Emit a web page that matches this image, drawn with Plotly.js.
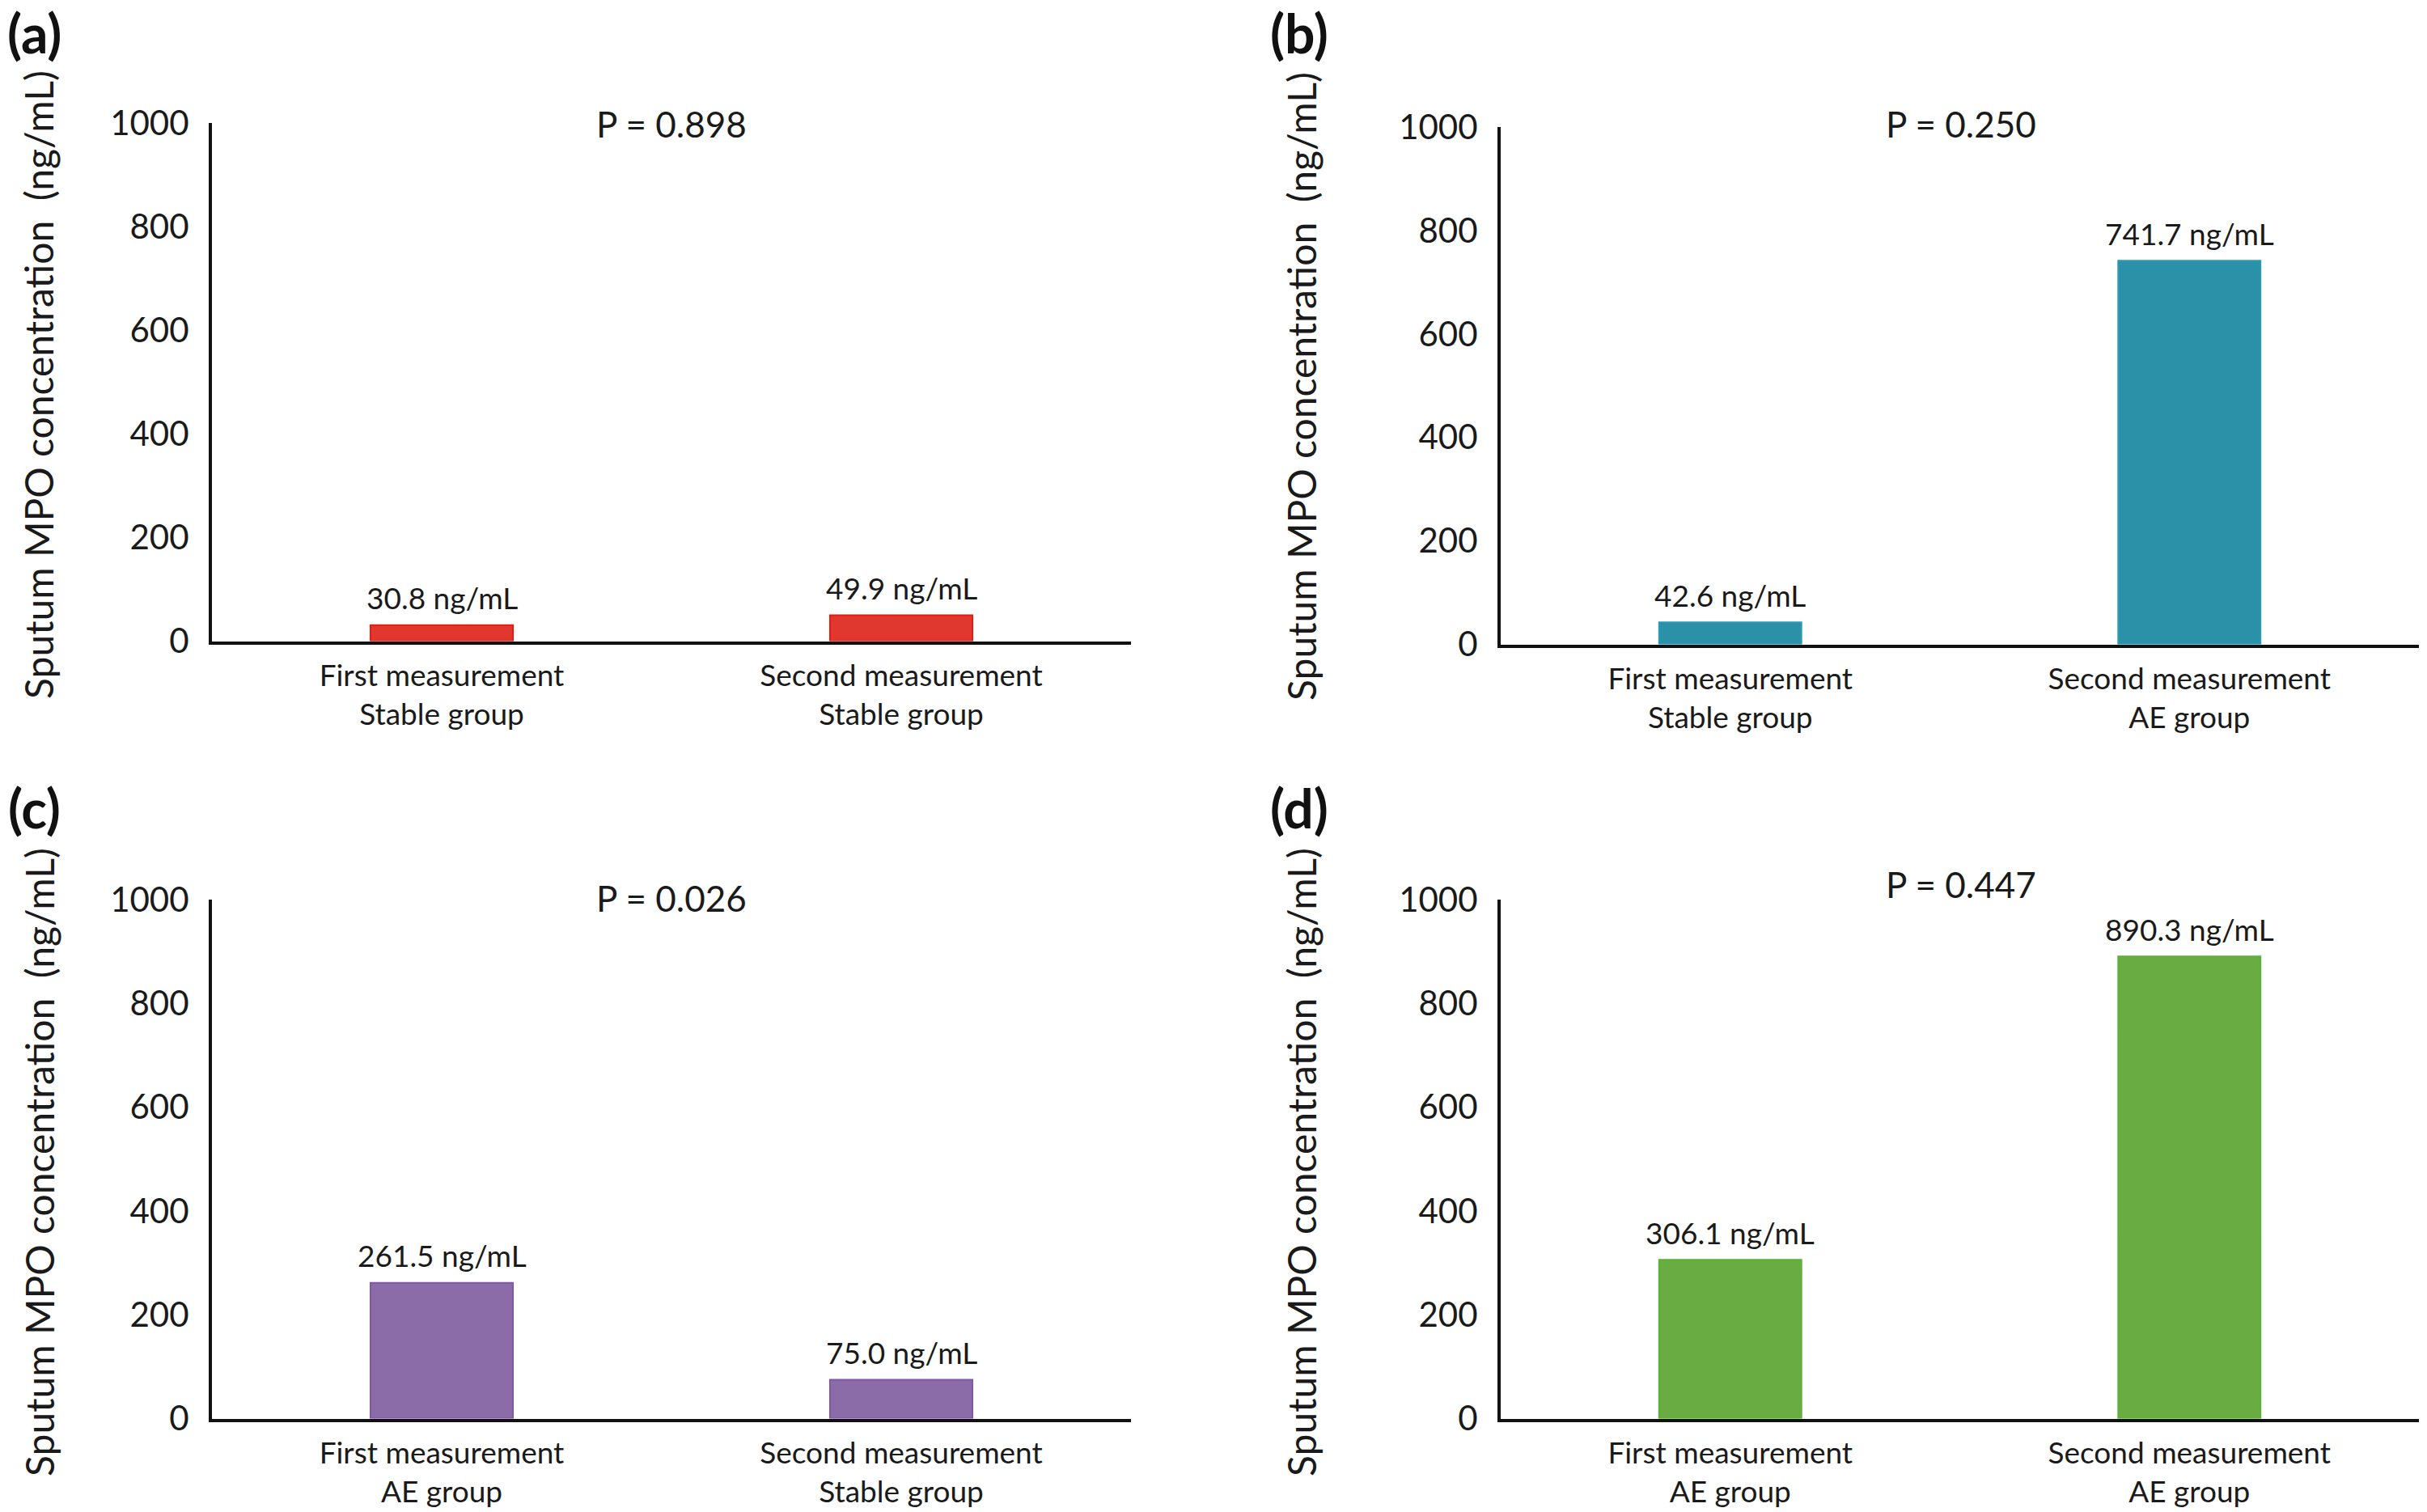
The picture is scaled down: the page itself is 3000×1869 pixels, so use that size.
<!DOCTYPE html>
<html>
<head>
<meta charset="utf-8">
<script src="https://cdn.plot.ly/plotly-3.0.1.min.js"></script>
<style>html,body{margin:0;padding:0;background:#fff;}#chart{width:3000px;height:1869px;}</style>
</head>
<body>
<div id="chart"></div>
<script>
// ---- Data ----
const categoriesA = ['First measurement<br>Stable group', 'Second measurement<br>Stable group'];
const valuesA = [30.8, 49.9];
const pValueA = 'P = 0.898';

const categoriesB = ['First measurement<br>Stable group', 'Second measurement<br>AE group'];
const valuesB = [42.6, 741.7];
const pValueB = 'P = 0.250';

const categoriesC = ['First measurement<br>AE group', 'Second measurement<br>Stable group'];
const valuesC = [261.5, 75.0];
const pValueC = 'P = 0.026';

const categoriesD = ['First measurement<br>AE group', 'Second measurement<br>AE group'];
const valuesD = [306.1, 890.3];
const pValueD = 'P = 0.447';

const panelLetters = ['(a)', '(b)', '(c)', '(d)'];
const yTitle = 'Sputum MPO concentration&nbsp;&nbsp;(ng/mL)';
const yTickVals = [0, 200, 400, 600, 800, 1000];

// ---- Styles ----
const W = 3000, H = 1869;
const FONT = 'Lato, "Open Sans", sans-serif';
const panels = [
  {cats: categoriesA, vals: valuesA, p: pValueA, fill: '#E0382E', line: '#E81A12', xa: 'x', ya: 'y',
   xpx: [262, 1398], ypx: [792.5, 152], letter: [42, 0], ptxt: [830, 153], ytitle: [48, 476]},
  {cats: categoriesB, vals: valuesB, p: pValueB, fill: '#2A91A8', line: '#2E9AB2', xa: 'x2', ya: 'y2',
   xpx: [1855, 2990], ypx: [796.5, 157], letter: [1606, 0], ptxt: [2424, 153], ytitle: [1608, 478]},
  {cats: categoriesC, vals: valuesC, p: pValueC, fill: '#8B6BA8', line: '#7E58A6', xa: 'x3', ya: 'y3',
   xpx: [262, 1398], ypx: [1753.5, 1112], letter: [42, 958], ptxt: [830, 1110], ytitle: [48, 1437]},
  {cats: categoriesD, vals: valuesD, p: pValueD, fill: '#68AC42', line: '#5DB038', xa: 'x4', ya: 'y4',
   xpx: [1855, 2990], ypx: [1753.5, 1112], letter: [1606, 958], ptxt: [2424, 1093], ytitle: [1608, 1437]}
];

const px = v => v / W;
const py = v => 1 - v / H;

const traces = [];
const layout = {
  width: W, height: H,
  margin: {l: 0, r: 0, t: 0, b: 0},
  paper_bgcolor: '#ffffff', plot_bgcolor: '#ffffff',
  showlegend: false,
  font: {family: FONT, color: '#1a1a1a'},
  bargap: 0.69,
  annotations: []
};

panels.forEach((p, i) => {
  traces.push({
    type: 'bar', x: p.cats, y: p.vals, xaxis: p.xa, yaxis: p.ya,
    marker: {color: p.fill, line: {color: p.line, width: 2}},
    hoverinfo: 'none'
  });
  const xk = 'xaxis' + (i === 0 ? '' : i + 1);
  const yk = 'yaxis' + (i === 0 ? '' : i + 1);
  layout[xk] = {
    domain: [px(p.xpx[0]), px(p.xpx[1])],
    anchor: p.ya, type: 'category',
    range: [-0.5, 1.5],
    showline: true, linecolor: '#111', linewidth: 4,
    showgrid: false, zeroline: false, ticks: '',
    tickfont: {family: FONT, size: 37, color: '#1a1a1a'},
    ticklabelstandoff: 7,
    fixedrange: true
  };
  layout[yk] = {
    domain: [py(p.ypx[0]), py(p.ypx[1])],
    anchor: p.xa, range: [0, 1000],
    tickvals: yTickVals,
    showline: true, linecolor: '#111', linewidth: 4,
    showgrid: false, zeroline: false, ticks: '',
    tickfont: {family: FONT, size: 42, color: '#1a1a1a'},
    ticklabelstandoff: 16,
    fixedrange: true
  };
  // value labels
  p.vals.forEach((v, j) => {
    layout.annotations.push({
      xref: p.xa, yref: p.ya, x: p.cats[j], y: v,
      text: v.toFixed(1) + ' ng/mL', showarrow: false,
      yanchor: 'middle', yshift: 34,
      font: {family: FONT, size: 37, color: '#1a1a1a'}
    });
  });
  // P value
  layout.annotations.push({
    xref: 'paper', yref: 'paper', x: px(p.ptxt[0]), y: py(p.ptxt[1]),
    text: p.p, showarrow: false, xanchor: 'center', yanchor: 'middle',
    font: {family: FONT, size: 44, color: '#1a1a1a'}
  });
  // panel letter
  layout.annotations.push({
    xref: 'paper', yref: 'paper', x: px(p.letter[0]), y: py(p.letter[1]),
    text: '<b>' + panelLetters[i] + '</b>', showarrow: false, xanchor: 'center', yanchor: 'top',
    borderpad: 0,
    font: {family: FONT, size: 66, color: '#111'}
  });
  // y title
  layout.annotations.push({
    xref: 'paper', yref: 'paper', x: px(p.ytitle[0]), y: py(p.ytitle[1]),
    text: yTitle, showarrow: false, textangle: -90, xanchor: 'center', yanchor: 'middle',
    font: {family: FONT, size: 48, color: '#1a1a1a'}
  });
});

Plotly.newPlot('chart', traces, layout, {displayModeBar: false, staticPlot: true});
</script>
</body>
</html>
